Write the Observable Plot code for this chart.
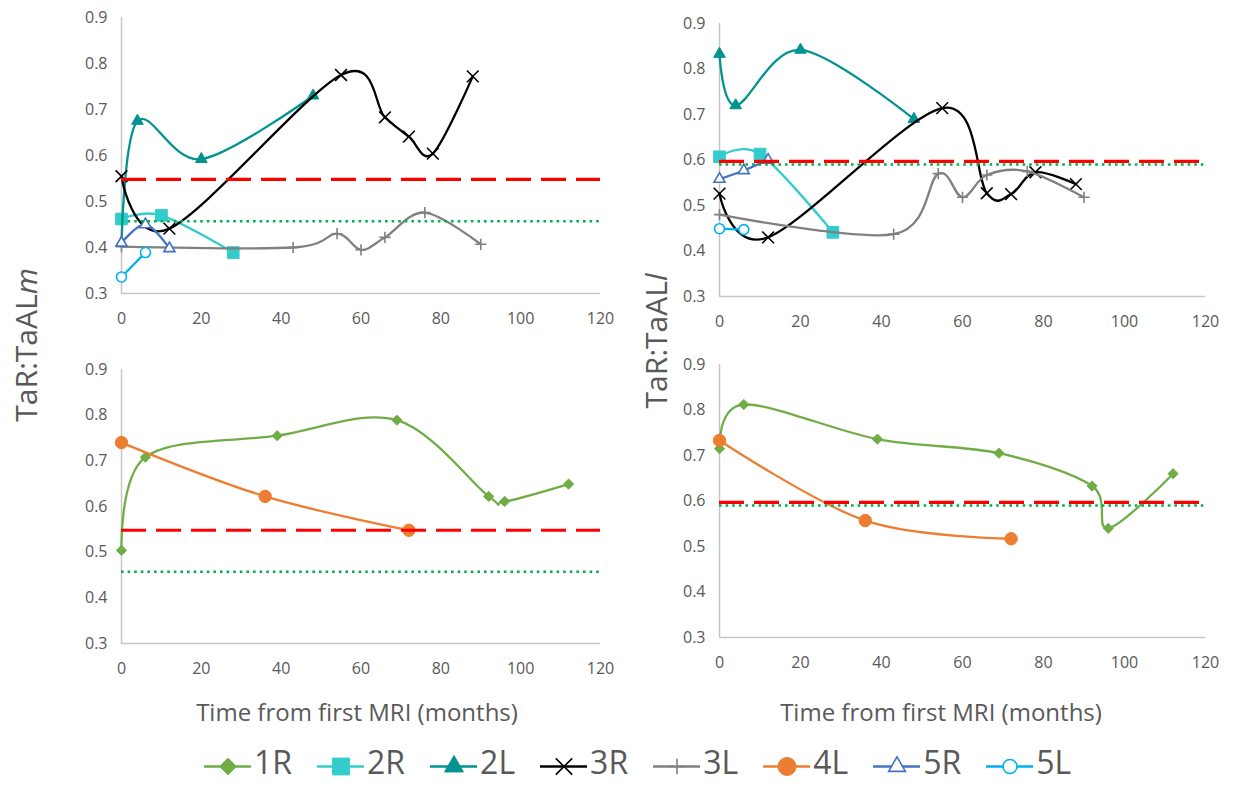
<!DOCTYPE html>
<html>
<head>
<meta charset="utf-8">
<script src="https://cdn.jsdelivr.net/npm/d3@7"></script>
<script src="https://cdn.jsdelivr.net/npm/@observablehq/plot@0.6"></script>
<style>
  body { margin: 0; background: #fff; font-family: "Open Sans", sans-serif; }
  #root { position: relative; width: 1245px; height: 785px; overflow: hidden; background: #fff; }
  .panel { position: absolute; }
  .ytitle { position: absolute; font-size: 30px; color: #595959; white-space: nowrap; transform: translate(-50%, -50%) rotate(-90deg); line-height: 1.3; }
  .xtitle { position: absolute; font-size: 24px; color: #595959; white-space: nowrap; transform: translate(-50%, -50%); line-height: 1.3; }
  #legend { position: absolute; left: 204px; top: 749px; height: 34px; display: flex; align-items: center; }
  .item { display: flex; align-items: center; margin-right: 25px; }
  .item span { font-size: 32px; color: #595959; margin-left: 3px; line-height: 0.9; display: inline-block; position: relative; top: -4px; }
</style>
</head>
<body>
<div id="root">
  <div class="panel" id="tl"></div>
  <div class="panel" id="tr"></div>
  <div class="panel" id="bl"></div>
  <div class="panel" id="br"></div>
  <div class="ytitle" style="left:25px; top:345px;">TaR:TaAL<i>m</i></div>
  <div class="ytitle" style="left:655px; top:341px;">TaR:TaAL<i>l</i></div>
  <div class="xtitle" style="left:357px; top:712px;">Time from first MRI (months)</div>
  <div class="xtitle" style="left:941px; top:712px;">Time from first MRI (months)</div>
  <div id="legend"></div>
</div>
<script>
// ---------- data ----------
const xTicks = [0, 20, 40, 60, 80, 100, 120];
const yTicks = [0.3, 0.4, 0.5, 0.6, 0.7, 0.8, 0.9];
const seriesNames = ["1R", "2R", "2L", "3R", "3L", "4L", "5R", "5L"];

// time from first MRI (months)
const t1R = [0, 6, 39, 69, 92, 96, 112];
const t2R = [0, 10, 28];
const t2L = [0, 4, 20, 48];
const t3R = [0, 12, 55, 66, 72, 78, 88];
const t3L = [0, 43, 54, 60, 66, 76, 90];
const t4L = [0, 36, 72];
const t5R = [0, 6, 12];
const t5L = [0, 6];

// TaR:TaALm
const m1R = [0.504, 0.708, 0.755, 0.789, 0.622, 0.611, 0.649];
const m2R = [0.462, 0.470, 0.389];
const m2L = [0.410, 0.675, 0.592, 0.730];
const m3R = [0.555, 0.441, 0.775, 0.683, 0.641, 0.604, 0.772];
const m3L = [0.402, 0.400, 0.430, 0.395, 0.422, 0.476, 0.407];
const m4L = [0.740, 0.622, 0.548];
const m5R = [0.410, 0.450, 0.398];
const m5L = [0.336, 0.389];

// TaR:TaALl
const l1R = [0.715, 0.812, 0.736, 0.705, 0.633, 0.540, 0.660];
const l2R = [0.607, 0.613, 0.441];
const l2L = [0.833, 0.720, 0.842, 0.690];
const l3R = [0.526, 0.430, 0.714, 0.527, 0.525, 0.573, 0.547];
const l3L = [0.480, 0.437, 0.570, 0.518, 0.567, 0.575, 0.518];
const l4L = [0.733, 0.557, 0.517];
const l5R = [0.558, 0.577, 0.600];
const l5L = [0.449, 0.447];

// reference thresholds
const thresholdsM = { red: 0.548, green: 0.457 };
const thresholdsL = { red: 0.597, green: 0.590 };

// ---------- styles ----------
const styles = {
  "1R": { color: "#70ad47", symbol: "diamond2", r: 4.6, fill: "#70ad47", sw: 1, lr: 7.5 },
  "2R": { color: "#33cccc", symbol: "square", r: 6.6, fill: "#33cccc", sw: 1, lr: 9.5 },
  "2L": { color: "#00938f", symbol: "triangle", r: 4.3, fill: "#00938f", sw: 1, lr: 7 },
  "3R": { color: "#000000", symbol: "times", r: 5.4, fill: "none", sw: 1.6, lr: 7.5 },
  "3L": { color: "#808080", symbol: "plus", r: 3.7, fill: "none", sw: 1.6, lr: 5 },
  "4L": { color: "#ed7d31", symbol: "circle", r: 6.2, fill: "#ed7d31", sw: 1, lr: 9 },
  "5R": { color: "#4472c4", symbol: "triangle2", r: 5.3, fill: "white", sw: 1.6, lr: 8 },
  "5L": { color: "#00b0f0", symbol: "circle", r: 5, fill: "white", sw: 1.6, lr: 7 }
};

function rows(times, vals) { return times.map((t, i) => ({ t, v: vals[i] })); }

function panel(id, g, groups, thr) {
  const marks = [
    Plot.ruleX([0], { stroke: "#c6c6c6", strokeWidth: 1.5 }),
    Plot.ruleY([0.3], { stroke: "#c6c6c6", strokeWidth: 1.5 })
  ];
  for (const [name, times, vals] of groups) {
    const s = styles[name];
    const data = rows(times, vals);
    marks.push(Plot.line(data, { x: "t", y: "v", stroke: s.color, strokeWidth: 2.3, curve: "cardinal" }));
    marks.push(Plot.dot(data, { x: "t", y: "v", symbol: s.symbol, r: s.r, fill: s.fill, stroke: s.color, strokeWidth: s.sw }));
  }
  marks.push(Plot.ruleY([thr.red], { x1: 0, x2: 120, stroke: "#ff0000", strokeWidth: 3.2, strokeDasharray: "25,10" }));
  marks.push(Plot.ruleY([thr.green], { x1: 0, x2: 120, stroke: "#00b050", strokeWidth: 2.6, strokeDasharray: "2.6,4" }));
  const chart = Plot.plot({
    width: g.w, height: g.h,
    marginLeft: g.ml, marginRight: g.mr, marginTop: g.mt, marginBottom: g.mb,
    style: { fontFamily: "Open Sans, sans-serif", fontSize: "16px", color: "#595959", background: "transparent", overflow: "visible" },
    x: { domain: [0, 120], ticks: xTicks, tickSize: 0, tickPadding: 19, label: null },
    y: { domain: [0.3, 0.9], ticks: yTicks, tickFormat: d3.format(".1f"), tickSize: 0, tickPadding: 14, label: null },
    marks
  });
  const el = document.getElementById(id);
  el.style.left = g.left + "px";
  el.style.top = g.top + "px";
  el.appendChild(chart);
}

panel("tl", { left: 60, top: 0, w: 580, h: 333, ml: 61, mr: 40, mt: 17, mb: 40 },
  [["2R", t2R, m2R], ["2L", t2L, m2L], ["3R", t3R, m3R], ["3L", t3L, m3L], ["5R", t5R, m5R], ["5L", t5L, m5L]],
  thresholdsM);
panel("tr", { left: 660, top: 0, w: 580, h: 336, ml: 59, mr: 35, mt: 23, mb: 40 },
  [["2R", t2R, l2R], ["2L", t2L, l2L], ["3R", t3R, l3R], ["3L", t3L, l3L], ["5R", t5R, l5R], ["5L", t5L, l5L]],
  thresholdsL);
panel("bl", { left: 60, top: 340, w: 580, h: 343, ml: 61, mr: 40, mt: 29, mb: 40 },
  [["1R", t1R, m1R], ["4L", t4L, m4L]],
  thresholdsM);
panel("br", { left: 660, top: 340, w: 580, h: 337, ml: 59, mr: 35, mt: 24, mb: 40 },
  [["1R", t1R, l1R], ["4L", t4L, l4L]],
  thresholdsL);

// ---------- legend ----------
const legend = document.getElementById("legend");
for (const name of seriesNames) {
  const s = styles[name];
  const item = document.createElement("div");
  item.className = "item";
  const sw = Plot.plot({
    width: 47, height: 30, margin: 0,
    style: { background: "transparent", overflow: "visible" },
    x: { domain: [0, 1], axis: null },
    y: { domain: [0, 1], axis: null },
    marks: [
      Plot.ruleY([0.5], { stroke: s.color, strokeWidth: 2.7 }),
      Plot.dot([{ x: 0.5, y: 0.5 }], { x: "x", y: "y", symbol: s.symbol, r: s.lr, fill: s.fill, stroke: s.color, strokeWidth: s.sw })
    ]
  });
  item.appendChild(sw);
  const label = document.createElement("span");
  label.textContent = name;
  item.appendChild(label);
  legend.appendChild(item);
}
</script>
</body>
</html>
